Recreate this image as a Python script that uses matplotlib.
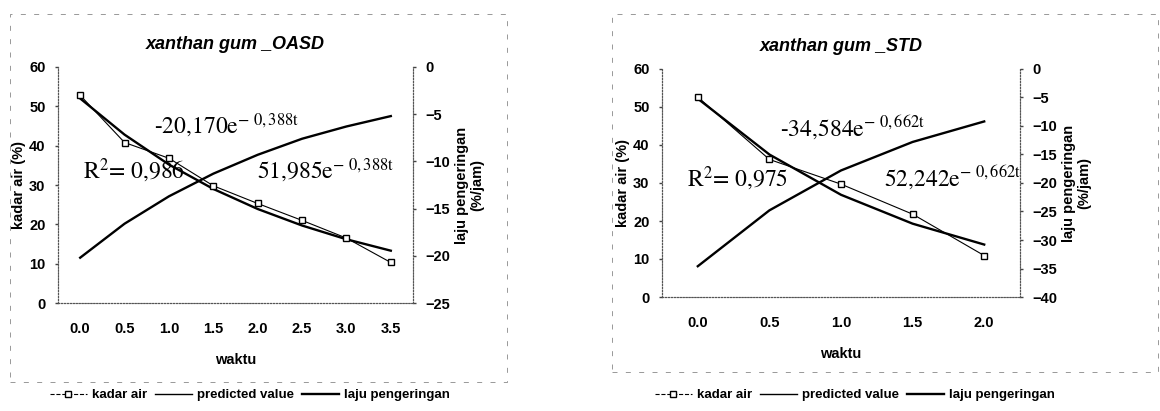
import numpy as np
import matplotlib
matplotlib.use('Agg')
import matplotlib.pyplot as plt
from matplotlib.lines import Line2D
from matplotlib.patches import Rectangle

plt.rcParams['font.family'] = ['Liberation Sans', 'DejaVu Sans']
plt.rcParams['mathtext.fontset'] = 'stix'

## Datos - xanthan gum OASD
t_oasd = [0.0, 0.5, 1.0, 1.5, 2.0, 2.5, 3.0, 3.5]
kadar_oasd = [52.8, 40.8, 36.8, 29.8, 25.3, 21.0, 16.5, 10.3]
pred_oasd = [52.0, 42.8, 35.2, 29.0, 23.9, 19.7, 16.2, 13.3]
laju_oasd = [-20.2, -16.6, -13.7, -11.3, -9.3, -7.6, -6.3, -5.2]

## Datos - xanthan gum STD
t_std = [0.0, 0.5, 1.0, 1.5, 2.0]
kadar_std = [52.6, 36.2, 29.7, 21.8, 10.9]
pred_std = [52.2, 37.5, 26.9, 19.3, 13.8]
laju_std = [-34.6, -24.8, -17.8, -12.8, -9.2]

W, H = 1160, 411
fig = plt.figure(figsize=(W/100, H/100), dpi=100)

def box(x0, y0, x1, y1):
    # caja en pixeles (origen arriba-izquierda)
    return [x0/W, 1-y1/H, (x1-x0)/W, (y1-y0)/H]

def panel(rect, t, kadar, pred, laju, title, rlim, rstep, eqs, legx):
    ax = fig.add_axes(box(*rect))
    ax2 = ax.twinx()
    ax.plot(t, kadar, color='black', lw=0.8, marker='s', ms=5,
            mfc='white', mec='black', mew=1.0, zorder=3)
    ax.plot(t, pred, color='black', lw=1.7, zorder=2)
    ax2.plot(t, laju, color='black', lw=1.7)
    ax.set_xlim(t[0]-0.25, t[-1]+0.25)
    ax.set_ylim(0, 60)
    ax.set_yticks(np.arange(0, 61, 10))
    ax2.set_ylim(rlim, 0)
    ax2.set_yticks(np.arange(rlim, 1, rstep))
    ax.set_xticks(t)
    ax.set_xticklabels(['%.1f' % v for v in t])
    for a in (ax, ax2):
        for s in a.spines.values():
            s.set_linestyle(':')
            s.set_color('#555555')
            s.set_linewidth(0.8)
        a.spines['top'].set_visible(False)
        a.tick_params(length=2, width=1, color='#444444', labelsize=10.5)
        for lb in a.get_yticklabels() + a.get_xticklabels():
            lb.set_fontweight('bold')
    ax.tick_params(axis='y', pad=7)
    ax2.tick_params(axis='y', pad=7)
    ax.tick_params(axis='x', pad=14, length=0)
    ax.set_xlabel('waktu', fontsize=10.5, fontweight='bold', labelpad=12)
    ax.set_ylabel('kadar air (%)', fontsize=10.5, fontweight='bold', labelpad=2)
    ax2.set_ylabel('laju pengeringan\n(%/jam)', fontsize=10.5, fontweight='bold',
                   labelpad=3, linespacing=1.15)
    ax.set_title(title, fontsize=13, fontweight='bold', style='italic', pad=13)
    for (x, y, s) in eqs:
        ax.text(x, y, s, fontsize=17, family='STIXGeneral', transform=ax.transAxes,
                va='center')
    handles = [Line2D([], [], color='black', lw=0.8, ls='--', marker='s', ms=4,
                      mfc='white', mec='black'),
               Line2D([], [], color='black', lw=1.0),
               Line2D([], [], color='black', lw=1.7)]
    fig.legend(handles, ['kadar air', 'predicted value', 'laju pengeringan'],
               loc='center', bbox_to_anchor=(legx/W, 1-395/H), ncol=3,
               frameon=False, handlelength=2.8, handletextpad=0.4,
               columnspacing=0.6, prop={'weight': 'bold', 'size': 9.5})
    return ax

panel((58, 67, 413, 303), t_oasd, kadar_oasd, pred_oasd, laju_oasd,
      'xanthan gum _OASD', -25, 5,
      [(0.27, 0.75, r'-20,170e$^{\mathrm{-\ 0,388t}}$'),
       (0.07, 0.56, r'R$^2$= 0,986'),
       (0.56, 0.56, r'51,985e$^{\mathrm{-\ 0,388t}}$')], 250)

panel((662, 69, 1020, 297), t_std, kadar_std, pred_std, laju_std,
      'xanthan gum _STD', -40, 5,
      [(0.33, 0.74, r'-34,584e$^{\mathrm{-\ 0,662t}}$'),
       (0.07, 0.52, r'R$^2$= 0,975'),
       (0.62, 0.52, r'52,242e$^{\mathrm{-\ 0,662t}}$')], 855)

# marcos punteados del area del grafico
for (x0, y0, x1, y1) in [(10, 14, 507, 382), (612, 14, 1158, 372)]:
    fig.patches.append(Rectangle((x0/W, 1-y1/H), (x1-x0)/W, (y1-y0)/H,
                                 transform=fig.transFigure, fill=False,
                                 ls=(0, (6, 10)), lw=0.6, ec='#888888'))

fig.savefig('out.png', dpi=100)
